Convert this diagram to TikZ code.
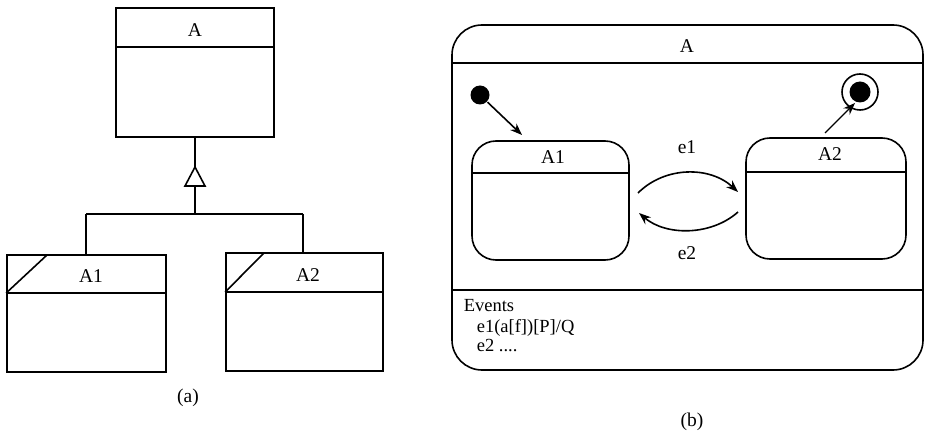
\documentclass[tikz,border=0pt]{standalone}
\usepackage{fontspec}
\setmainfont{Liberation Serif}
\usetikzlibrary{arrows.meta}
\begin{document}
\begin{tikzpicture}[x=1pt,y=-1pt,line width=1.6pt,
  lbl/.style={font=\fontsize{19.5}{21}\selectfont,inner sep=0pt},
  evt/.style={font=\fontsize{18.5}{20}\selectfont,inner sep=0pt,anchor=base west},
  cls/.style={draw,rectangle,inner sep=0pt},
  st/.style={draw,rectangle,rounded corners=24pt,inner sep=0pt},
  arr/.style={-{Stealth[length=12pt,width=9pt]}}]
\useasboundingbox (0,0) rectangle (926,446);
% ---------- (a) ----------
\node[cls,minimum width=158pt,minimum height=129pt] (A) at (195,72.5) {};
\draw (A.west |- 0,47) -- (A.east |- 0,47);
\node[lbl] (Atxt) at (195,30) {A};
\coordinate (apex) at (195,167);
\coordinate (tbase) at (195,186);
\coordinate (junc) at (195,214);
\draw (A.south) -- (apex);
\draw (apex) -- ++(-10,19) -- ++(20,0) -- cycle;
\node[cls,minimum width=159pt,minimum height=117pt] (C1) at (86.5,313.5) {};
\node[cls,minimum width=157pt,minimum height=118pt] (C2) at (304.5,312) {};
\draw (tbase) -- (junc);
\draw (86,214) -- (303,214);
\draw (86,214) -- (86,255);
\draw (303,214) -- (303,253);
\draw (C1.west |- 0,293) -- (C1.east |- 0,293);
\draw (C1.west |- 0,293) -- (47,255);
\node[lbl] (C1txt) at (91,276) {A1};
\draw (C2.west |- 0,292) -- (C2.east |- 0,292);
\draw (C2.west |- 0,292) -- (264,253);
\node[lbl] (C2txt) at (308,275) {A2};
\node[lbl] (capa) at (188,398) {(a)};
% ---------- (b) ----------
\node[draw,rectangle,rounded corners=30pt,inner sep=0pt,minimum width=471pt,minimum height=345pt] (S) at (687.5,197.5) {};
\draw (S.west |- 0,63) -- (S.east |- 0,63);
\draw (S.west |- 0,290) -- (S.east |- 0,290);
\node[lbl] (Stxt) at (687,46) {A};
\node[st,minimum width=157pt,minimum height=119pt] (S1) at (550.5,200.5) {};
\draw (S1.west |- 0,173) -- (S1.east |- 0,173);
\node[lbl] (S1txt) at (553,157) {A1};
\node[st,minimum width=160pt,minimum height=121pt] (S2) at (826,198.5) {};
\draw (S2.west |- 0,172) -- (S2.east |- 0,172);
\node[lbl] (S2txt) at (830,154) {A2};
\node[circle,fill=black,minimum size=19pt,inner sep=0pt] (init) at (480,95) {};
\node[circle,draw,minimum size=36pt,inner sep=0pt] (fin) at (860,92) {};
\node[circle,fill=black,minimum size=21pt,inner sep=0pt] (finin) at (860,92) {};
\coordinate (i1) at (522,135);
\coordinate (f0) at (825,133);
\coordinate (f1) at (855,103);
\draw[arr] (init) -- (i1);
\draw[arr,line width=1.3pt] (f0) -- (f1);
\coordinate (e1s) at (638,193);
\coordinate (e1e) at (738,192);
\coordinate (e2s) at (738,212);
\coordinate (e2e) at (639,213);
\draw[arr] (e1s) .. controls (665,166) and (710,166) .. (e1e);
\draw[arr] (e2s) .. controls (711,236) and (666,236) .. (e2e);
\node[lbl] (e1l) at (687,147) {e1};
\node[lbl] (e2l) at (687,253) {e2};
\node[evt] (ev0) at (463,312) {Events};
\node[evt] (ev1) at (476,332) {e1(a[f])[P]/Q};
\node[evt] (ev2) at (476,351) {e2 ....};
\node[lbl] (capb) at (692,422) {(b)};
\end{tikzpicture}
\end{document}
